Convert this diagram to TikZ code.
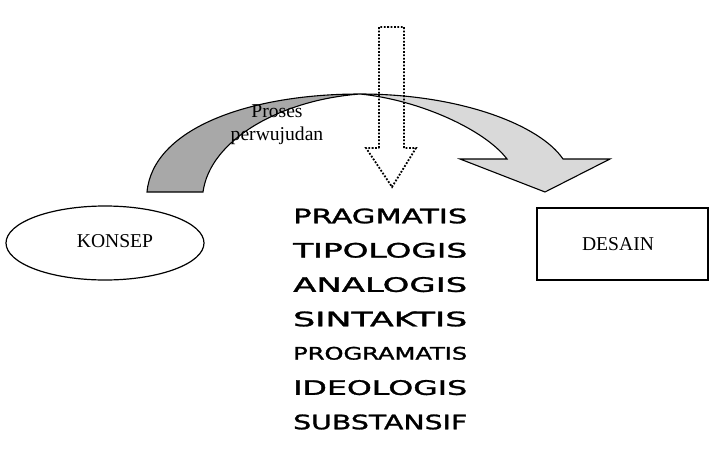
\documentclass[tikz,border=0pt]{standalone}
\usepackage{fontspec}
\setmainfont{Liberation Serif}
\newfontfamily\listfont[FakeBold=1.3]{DejaVu Sans}
\usetikzlibrary{shapes.geometric}
\begin{document}
\begin{tikzpicture}[x=1pt,y=-1pt,
  label text/.style={font=\fontsize{19.6}{23}\selectfont, inner sep=0pt},
  band/.style={draw=black, line width=1.1pt, line join=miter},
  listword/.style={anchor=west, inner sep=0pt},
  dotarrow/.style={draw=black, line width=1.8pt, dash pattern=on 1.8pt off 1.6pt}]
\useasboundingbox (0,0) rectangle (720,450);

% back side of the curved arrow (darker band)
\path[band, fill=black!34]
  (147,192) .. controls (153,128) and (250,94) .. (360,94)
  .. controls (280,100) and (210,140) .. (203,192) -- cycle;

% front side of the curved arrow with its head
\path[band, fill=black!15]
  (360,94) .. controls (460,94) and (540,125) .. (563,159)
  -- (610,159) -- (545,192) -- (460,159) -- (507,159)
  .. controls (485,130) and (420,100) .. (360,94) -- cycle;

% caption on the arc
\node[label text, anchor=base] (proses) at (277,117) {Proses};
\node[label text, anchor=base] (perwujudan) at (277,140) {perwujudan};

% dotted downward arrow
\path[dotarrow]
  (379,148) -- (379,27) -- (404,27) -- (404,148) -- (416,148)
  -- (392,187) -- (366,148) -- cycle;

% start and end of the process
\node[draw, ellipse, line width=1.2pt, minimum width=198pt, minimum height=74pt,
      inner sep=0pt] (konsep) at (105,243) {};
\node[label text, anchor=base] (konsepText) at (115,247) {KONSEP};
\node[draw, rectangle, line width=1.4pt, minimum width=171pt, minimum height=72pt,
      inner sep=0pt] (desain) at (622.5,244) {};
\node[label text, anchor=base] (desainText) at (618,250) {DESAIN};

% list of approaches
\node[listword] (w1) at (293,216)   {\resizebox{174pt}{14.8pt}{\listfont PRAGMATIS}};
\node[listword] (w2) at (293,250.3) {\resizebox{174pt}{14.8pt}{\listfont TIPOLOGIS}};
\node[listword] (w3) at (293,284.6) {\resizebox{174pt}{14.8pt}{\listfont ANALOGIS}};
\node[listword] (w4) at (293,319)   {\resizebox{174pt}{14.8pt}{\listfont SINTAKTIS}};
\node[listword] (w5) at (293,353.3) {\resizebox{174pt}{12.8pt}{\listfont PROGRAMATIS}};
\node[listword] (w6) at (293,387.6) {\resizebox{174pt}{14.8pt}{\listfont IDEOLOGIS}};
\node[listword] (w7) at (293,422)   {\resizebox{174pt}{14.8pt}{\listfont SUBSTANSIF}};
\end{tikzpicture}
\end{document}
